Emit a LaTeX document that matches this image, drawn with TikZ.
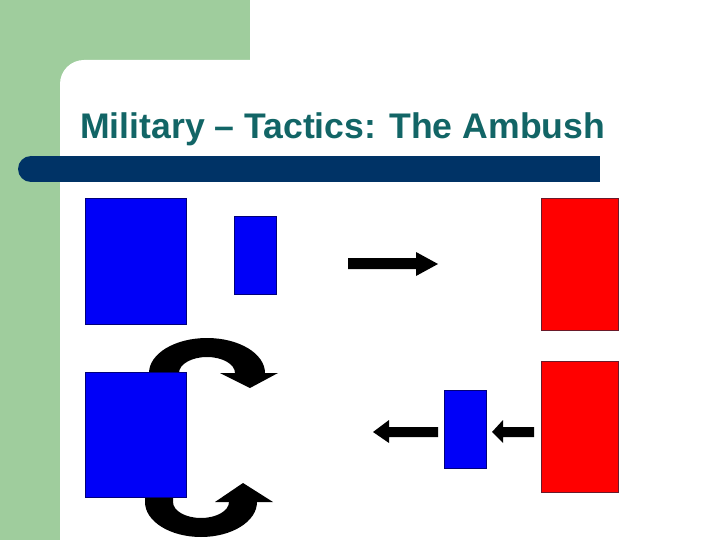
\documentclass[tikz,border=0pt]{standalone}
\usepackage{fontspec}
\setmainfont{Liberation Sans}
\usetikzlibrary{positioning}

\definecolor{sage}{HTML}{9FCD9D}
\definecolor{barblue}{HTML}{003366}
\definecolor{titleteal}{HTML}{126566}
\definecolor{ownblue}{HTML}{0000F8}
\definecolor{ownedge}{HTML}{00007A}
\definecolor{foered}{HTML}{FF0000}
\definecolor{foeedge}{HTML}{6A1A2A}

\begin{document}
\begin{tikzpicture}[
			x=1pt, y=-1pt,
			every node/.style={align=center},
			friend/.style={rectangle, draw=ownedge, fill=ownblue, line width=0.8pt, inner sep=0pt},
			enemy/.style={rectangle, draw=foeedge, fill=foered, line width=0.8pt, inner sep=0pt},
			move/.style={fill=black}
			]
			\useasboundingbox (0,0) rectangle (720,540);
			
			% Background
			\fill[sage] (0,0) rectangle (250,540);
			\begin{scope}
				\clip (0,0) rectangle (720,540);
				\fill[white, rounded corners=24pt] (60,60) rectangle (790,610);
			\end{scope}
			\fill[barblue] (31,156) rectangle (600,182);
			\fill[barblue] (31,169) circle (13pt);
			
			% Title
			\node[anchor=base west, inner sep=0pt, text=titleteal,
				font=\fontsize{35.6}{40}\selectfont\bfseries] (title) at (80,139)
				{Military -- Tactics: The Ambush};
			
			% Curved moves (behind the main body)
			\fill[move] (149,386) -- (149,373)
				arc[start angle=180, end angle=0, x radius=58pt, y radius=35pt]
				-- (235,373)
				arc[start angle=0, end angle=180, x radius=28pt, y radius=16pt]
				-- (179,386) -- cycle;
			\fill[move] (220,373) -- (278,373) -- (250,388) -- cycle;
			\fill[move] (145,488) -- (145,502)
				arc[start angle=180, end angle=360, x radius=56pt, y radius=35pt]
				-- (229,502)
				arc[start angle=0, end angle=-180, x radius=28pt, y radius=16pt]
				-- (173,488) -- cycle;
			\fill[move] (215,502) -- (273,502) -- (243,483) -- cycle;
			
			% Units
			\node[friend, minimum width=101pt, minimum height=126pt] (main) at (135.5,261) {};
			\node[friend, minimum width=42pt, minimum height=78pt] (scout) at (255,255) {};
			\node[friend, minimum width=101pt, minimum height=125pt] (body) at (135.5,434.5) {};
			\node[friend, minimum width=42pt, minimum height=78pt] (decoy) at (465,429) {};
			\node[enemy, minimum width=77pt, minimum height=132pt] (foeA) at (579.5,264) {};
			\node[enemy, minimum width=77pt, minimum height=131pt] (foeB) at (579.5,426.5) {};
			
			% Straight moves
			\fill[move] (348,258) -- (416,258) -- (416,252) -- (438,264)
				-- (416,276) -- (416,269) -- (348,269) -- cycle;
			\fill[move] (438,427) -- (389,427) -- (389,420) -- (373,432)
				-- (389,443) -- (389,437) -- (438,437) -- cycle;
			\fill[move] (534,427) -- (503,427) -- (503,420) -- (492,432)
				-- (503,443) -- (503,437) -- (534,437) -- cycle;
		\end{tikzpicture}
\end{document}
